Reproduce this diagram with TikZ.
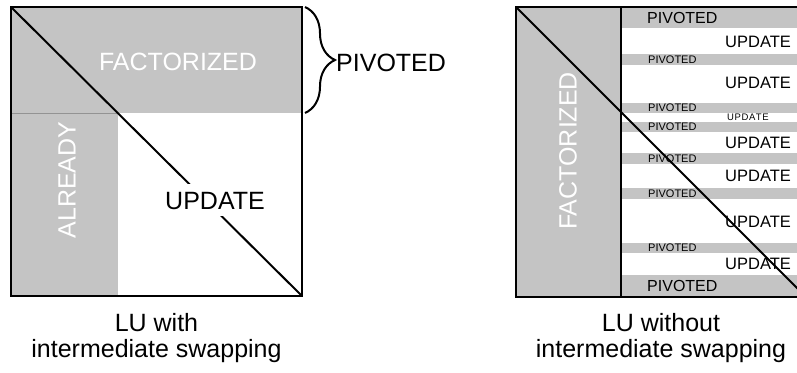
\documentclass[tikz,border=0pt]{standalone}
\usepackage{fontspec}
\setmainfont{Liberation Sans}
\usetikzlibrary{decorations.pathreplacing}
\definecolor{panel}{RGB}{196,196,196}
\newcommand\pxfont[1]{\fontsize{#1}{#1}\selectfont}
\begin{document}
\begin{tikzpicture}[x=1pt,y=-1pt,
  frame/.style={draw=black,line width=2pt},
  diag/.style={draw=black,line width=2pt},
  inlbl/.style={text=white,font=\pxfont{25},inner sep=0pt},
  biglbl/.style={text=black,font=\pxfont{25},inner sep=0pt},
  pivbig/.style={font=\pxfont{16},anchor=west,inner sep=0pt},
  pivsmall/.style={font=\pxfont{11},anchor=west,inner sep=0pt},
  updbig/.style={font=\pxfont{16.5},anchor=west,inner sep=0pt},
  updtiny/.style={font=\pxfont{9.5},anchor=west,inner sep=0pt},
  caption/.style={font=\pxfont{25},anchor=base,inner sep=0pt}]
\useasboundingbox (0,0) rectangle (797,372);
\clip (0,0) rectangle (797,372);

% ---- left matrix: LU with intermediate swapping ----
\fill[panel] (11,7) rectangle (302,113);
\fill[panel] (11,113) rectangle (118,296);
\draw[black!25!panel,line width=0.6pt] (11,113) -- (118,113);
\node[inlbl] (lfact) at (178,62) {FACTORIZED};
\node[inlbl,rotate=90] (lalr) at (67,180) {ALREADY};
\coordinate (ltl) at (11,7);
\coordinate (lbr) at (302,296);
\draw[diag] (ltl) -- (lbr);
\node[biglbl,fill=white,text height=18pt,text depth=0pt,inner xsep=1pt,inner ysep=7pt]
  (lupd) at (215,200) {UPDATE};
\draw[frame] (ltl) rectangle (lbr);

% brace and its label
\coordinate (btop) at (305,7);
\coordinate (bbot) at (305,113);
\draw[line width=2pt,decorate,decoration={brace,amplitude=30pt,aspect=0.5}] (btop) -- (bbot);
\node[biglbl,anchor=west] (lpiv) at (336,63) {PIVOTED};

% ---- right matrix: LU without intermediate swapping ----
\fill[panel] (516,7) rectangle (621,297);
\foreach \ya/\yb in {7/28,54/65,103/113,122/132,153/164,188/199,243/253,275/297}
  \fill[panel] (621,\ya) rectangle (806,\yb);
\node[inlbl,rotate=90] (rfact) at (568,151) {FACTORIZED};

\node[pivbig]   (p1) at (647,17.5) {PIVOTED};
\node[pivsmall] (p2) at (648,59.5) {PIVOTED};
\node[pivsmall] (p3) at (648,108) {PIVOTED};
\node[pivsmall] (p4) at (648,127) {PIVOTED};
\node[pivsmall] (p5) at (648,158.5) {PIVOTED};
\node[pivsmall] (p6) at (648,193.5) {PIVOTED};
\node[pivsmall] (p7) at (648,248) {PIVOTED};
\node[pivbig]   (p8) at (647,286) {PIVOTED};

\node[updbig]  (u1) at (725,41.5) {UPDATE};
\node[updbig]  (u2) at (725,83) {UPDATE};
\node[updtiny] (u3) at (727,117.5) {U\kern.6ptP\kern.6ptD\kern.6ptA\kern.6ptT\kern.6ptE};
\node[updbig]  (u4) at (725,142.5) {UPDATE};
\node[updbig]  (u5) at (725,176) {UPDATE};
\node[updbig]  (u6) at (725,221.5) {UPDATE};
\node[updbig]  (u7) at (725,264) {UPDATE};

\coordinate (rtl) at (516,7);
\coordinate (rbr) at (806,297);
\coordinate (rvt) at (621,7);
\coordinate (rvb) at (621,297);
\draw[diag] (rtl) -- (rbr);
\draw[black,line width=1.6pt] (rvt) -- (rvb);
\draw[frame] (rtl) rectangle (rbr);

% ---- captions ----
\node[caption] (c1a) at (156.5,331) {LU with};
\node[caption] (c1b) at (156.5,357) {intermediate swapping};
\node[caption] (c2a) at (661,331) {LU without};
\node[caption] (c2b) at (661,357) {intermediate swapping};
\end{tikzpicture}
\end{document}
